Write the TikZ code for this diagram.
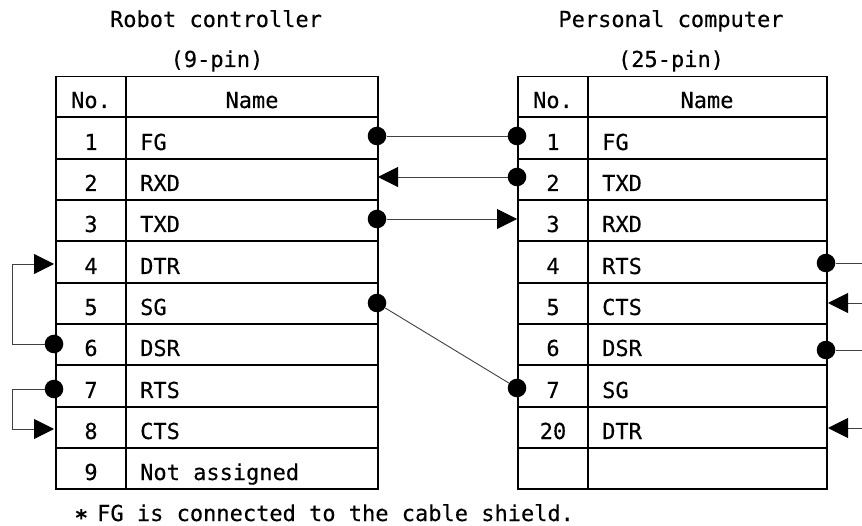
\documentclass[tikz,border=0pt]{standalone}
\usepackage{fontspec}
\setmonofont[FakeBold=0.25]{DejaVu Sans Mono}
\usetikzlibrary{arrows.meta}
\tikzset{
  x=1pt,y=-1pt,
  grid/.style={line width=1.9pt,black,line cap=rect},
  wire/.style={line width=0.9pt,black!75},
  tipwire/.style={wire,-{Triangle[length=20pt,width=20pt,black]}},
  dot/.style={circle,fill=black,inner sep=0pt,minimum size=18.6pt},
  lbl/.style={font=\ttfamily\fontsize{22}{22}\selectfont,inner sep=0pt,anchor=base},
  lbll/.style={lbl,anchor=base west},
}
\begin{document}
\begin{tikzpicture}
\useasboundingbox (0,0) rectangle (862,526);
% tables
\foreach \xa/\xb/\xc in {56/126/378,518/588/827}{
  \draw[grid] (\xa,76.5) rectangle (\xc,489);
  \draw[grid] (\xb,76.5) -- (\xb,489);
  \foreach \yy in {117,159,200,241,283,324,365,407,448}
    \draw[grid] (\xa,\yy) -- (\xc,\yy);
}
% titles
\node[lbl] (t1) at (216,27) {Robot controller};
\node[lbl] (t2) at (217,67) {(9-pin)};
\node[lbl] (t3) at (671,27) {Personal computer};
\node[lbl] (t4) at (671,67) {(25-pin)};
% left table text
\node[lbl] (lno) at (91,108) {No.};
\node[lbl] (lname) at (252,108) {Name};
\foreach \n/\s/\yy in {1/FG/150,2/RXD/191,3/TXD/232,4/DTR/274,5/SG/315,6/DSR/356,7/RTS/398,8/CTS/439,9/Not assigned/480}{
  \node[lbl] (ln\n) at (91,\yy) {\n};
  \node[lbll] (ls\n) at (140,\yy) {\s};
}
% right table text
\node[lbl] (rno) at (553,108) {No.};
\node[lbl] (rname) at (707,108) {Name};
\foreach \n/\s/\yy in {1/FG/150,2/TXD/191,3/RXD/232,4/RTS/274,5/CTS/315,6/DSR/356,7/SG/398,20/DTR/439}{
  \node[lbl] (rn\n) at (553,\yy) {\n};
  \node[lbll] (rs\n) at (602,\yy) {\s};
}
% footnote
\node[lbll] (foot) at (76,521) {\makebox[21pt][l]{\hspace*{-1.5pt}\bfseries ∗}FG is connected to the cable shield.};
% terminals
\node[dot] (a1) at (377,136) {};
\coordinate (a2) at (378,177);
\node[dot] (a3) at (377,219) {};
\node[dot] (a5) at (377,303) {};
\coordinate (a4) at (54,264);
\node[dot] (a6) at (54,344) {};
\node[dot] (a7) at (54,389) {};
\coordinate (a8) at (54,429);
\node[dot] (b1) at (517,136) {};
\node[dot] (b2) at (517,177) {};
\coordinate (b3) at (517,219);
\node[dot] (b7) at (517,388) {};
\node[dot] (b4) at (826,263) {};
\coordinate (b5) at (828,303);
\node[dot] (b6) at (826,350) {};
\coordinate (b20) at (828,428);
\coordinate (e4) at (862,263);
\coordinate (e5) at (862,303);
\coordinate (e6) at (862,350);
\coordinate (e20) at (862,428);
\coordinate (la) at (12.5,344);
\coordinate (lb) at (12.5,389);
% connectors
\draw[wire] (a1) -- (b1);
\draw[tipwire] (b2) -- (a2);
\draw[tipwire] (a3) -- (b3);
\draw[wire] (a5) -- (b7);
\draw[tipwire] (a6) -- (la) |- (a4);
\draw[tipwire] (a7) -- (lb) |- (a8);
\draw[wire] (b4) -- (e4);
\draw[tipwire] (e5) -- (b5);
\draw[wire] (b6) -- (e6);
\draw[tipwire] (e20) -- (b20);
\end{tikzpicture}
\end{document}
